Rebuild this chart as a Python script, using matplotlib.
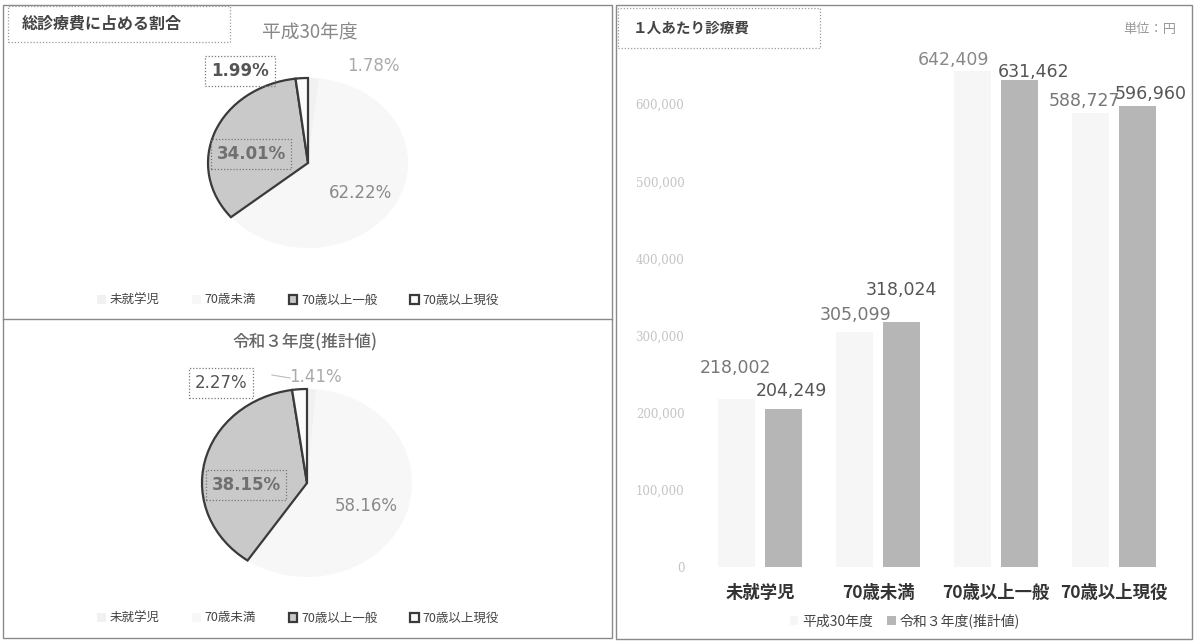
import matplotlib
matplotlib.use("Agg")
import matplotlib.pyplot as plt
from matplotlib.patches import Rectangle
from matplotlib.lines import Line2D
import numpy as np

plt.rcParams['font.family'] = ['Noto Sans CJK JP', 'DejaVu Sans']

# --- data ---
pie_labels = ['未就学児', '70歳未満', '70歳以上一般', '70歳以上現役']
share_h30 = [1.78, 62.22, 34.01, 1.99]
share_r3 = [1.41, 58.16, 38.15, 2.27]

bar_categories = ['未就学児', '70歳未満', '70歳以上一般', '70歳以上現役']
cost_h30 = [218002, 305099, 642409, 588727]
cost_r3 = [204249, 318024, 631462, 596960]
series_names = ['平成30年度', '令和３年度(推計値)']
y_ticks = [0, 100000, 200000, 300000, 400000, 500000, 600000]

# --- styles ---
W, H = 1194, 641
pie_colors = ['#f1f1f1', '#f7f7f7', '#c9c9c9', '#fbfbfb']
pie_edges = ['none', 'none', '#3a3a3a', '#3a3a3a']
label_colors = ['#aaaaaa', '#8a8a8a', '#707070', '#555555']
boxed = [False, False, True, True]
num_font = 'DejaVu Sans'


def fx(px):
    return px / W


def fy(py):
    return 1 - py / H


def fig_rect(fig, x0, y0, x1, y1, **kw):
    fig.patches.append(Rectangle((fx(x0), fy(y1)), (x1 - x0) / W, (y1 - y0) / H,
                                 transform=fig.transFigure, fill=False, **kw))


def draw_pie(fig, values, center, radii, area, label_pos, legend_y, weights):
    cx, cy = center
    rx, ry = radii
    x0, y0, x1, y1 = area
    ax = fig.add_axes([fx(x0), fy(y1), (x1 - x0) / W, (y1 - y0) / H])
    wedges, _ = ax.pie(values, startangle=90, counterclock=False, colors=pie_colors,
                       wedgeprops=dict(linewidth=0))
    for w, ec in zip(wedges, pie_edges):
        if ec != 'none':
            w.set_edgecolor(ec)
            w.set_linewidth(1.6)
    ax.set_aspect('auto')
    ax.set_xlim((x0 - cx) / rx, (x1 - cx) / rx)
    ax.set_ylim((cy - y1) / ry, (cy - y0) / ry)
    ax.axis('off')

    for i, v in enumerate(values):
        px, py = label_pos[i]
        bbox = None
        if boxed[i]:
            bbox = dict(boxstyle='square,pad=0.35', fc='none', ec='#777777',
                        ls=(0, (1, 1.5)), lw=0.9)
        fig.text(fx(px), fy(py), f'{v:.2f}%', ha='center', va='center',
                 fontsize=12, family=num_font, color=label_colors[i],
                 fontweight=weights[i], bbox=bbox)

    leg = fig.legend(wedges, pie_labels, loc='center', bbox_to_anchor=(fx(298), fy(legend_y)),
                     ncol=4, frameon=False, fontsize=9, handlelength=0.7, handleheight=0.7,
                     columnspacing=2.6, handletextpad=0.3)
    for t in leg.get_texts():
        t.set_color('#444444')
    return ax


fig = plt.figure(figsize=(W / 100, H / 100), dpi=100)

# panel frames
fig_rect(fig, 3, 5, 612, 638, ec='#8a8a8a', lw=1)
fig.lines.append(Line2D([fx(3), fx(612)], [fy(319), fy(319)], transform=fig.transFigure,
                        color='#8a8a8a', lw=1))
fig_rect(fig, 616, 5, 1192, 639, ec='#8a8a8a', lw=1)

# left panel: header and pies
fig_rect(fig, 8, 6, 230, 42, ec='#9a9a9a', lw=0.9, ls=(0, (1, 1.5)))
fig.text(fx(22), fy(24), '総診療費に占める割合', fontsize=11.5, fontweight='bold',
         color='#444444', va='center')
fig.text(fx(310), fy(33), '平成30年度', fontsize=13.5, color='#888888', ha='center', va='center')
fig.text(fx(305), fy(342), '令和３年度(推計値)', fontsize=12, color='#666666',
         ha='center', va='center', fontweight='medium')

draw_pie(fig, share_h30, (308, 163), (100, 85), (8, 45, 608, 285),
         [(373, 66), (361, 193), (251, 154), (240, 71)], 300,
         ['normal', 'normal', 'bold', 'bold'])
draw_pie(fig, share_r3, (307, 483), (105, 94), (8, 355, 608, 605),
         [(315, 377), (366, 506), (246, 485), (221, 383)], 618,
         ['normal', 'normal', 'bold', 'normal'])
fig.lines.append(Line2D([fx(272), fx(290)], [fy(375), fy(378)], transform=fig.transFigure,
                        color='#bbbbbb', lw=0.8))

# right panel: header and bar chart
fig_rect(fig, 618, 8, 820, 48, ec='#9a9a9a', lw=0.9, ls=(0, (1, 1.5)))
fig.text(fx(633), fy(28), '１人あたり診療費', fontsize=10.5, fontweight='bold',
         color='#444444', va='center')
fig.text(fx(1150), fy(30), '単位：円', fontsize=9.5, color='#999999', ha='center', va='center')

ax = fig.add_axes([fx(701), fy(567), 472 / W, (567 - 27) / H])
x = np.arange(len(bar_categories))
width = 0.31
b1 = ax.bar(x - 0.2, cost_h30, width, color='#f6f6f6', label=series_names[0])
b2 = ax.bar(x + 0.2, cost_r3, width, color='#b6b6b6', label=series_names[1])
ax.set_xlim(-0.5, len(bar_categories) - 0.5)
ax.set_ylim(0, 700000)

light_offsets = [(-1, 31), (1.5, 17), (-19, 11), (-6, 12)]
dark_offsets = [(8, 18), (0, 32), (14, 8), (13, 12)]
light_label_colors = ['#777777', '#777777', '#888888', '#777777']
for i, v in enumerate(cost_h30):
    ax.annotate(f'{v:,}', xy=(x[i] - 0.2, v), xytext=light_offsets[i], textcoords='offset pixels',
                ha='center', va='center', fontsize=12.5, family=num_font,
                color=light_label_colors[i])
for i, v in enumerate(cost_r3):
    ax.annotate(f'{v:,}', xy=(x[i] + 0.2, v), xytext=dark_offsets[i], textcoords='offset pixels',
                ha='center', va='center', fontsize=12.5, family=num_font,
                color='#555555')

ax.set_yticks(y_ticks)
ax.set_yticklabels([f'{t:,}' for t in y_ticks], family='DejaVu Serif')
ax.tick_params(axis='y', length=0, pad=12, labelsize=8.5, labelcolor='#c4c4c4')
ax.set_xticks(x)
ax.set_xticklabels(bar_categories, fontsize=12.5, fontweight='bold', color='#333333')
ax.tick_params(axis='x', length=0, pad=12)
for s in ax.spines.values():
    s.set_visible(False)

leg = fig.legend([b1, b2], series_names, loc='center', bbox_to_anchor=(fx(905), fy(621)),
                 ncol=2, frameon=False, fontsize=10, handlelength=0.6, handleheight=0.6,
                 columnspacing=1.0, handletextpad=0.3)
for t in leg.get_texts():
    t.set_color('#444444')

fig.savefig('out.png', dpi=100)
